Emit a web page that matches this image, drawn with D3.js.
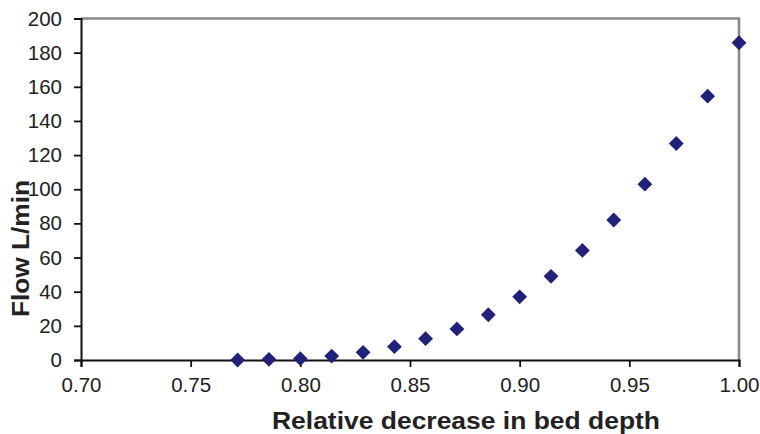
<!DOCTYPE html>
<html>
<head>
<meta charset="utf-8">
<script src="https://cdn.jsdelivr.net/npm/d3@7/dist/d3.min.js"></script>
<style>
  html, body { margin: 0; padding: 0; background: #fff; }
  svg { display: block; font-family: Arial, "Liberation Sans", sans-serif; }
</style>
</head>
<body>
<svg id="chart" width="760" height="434"></svg>
<script>
// Relative decrease in bed depth (x) vs. flow rate (y)
const depthRatio = [0.7714, 0.7857, 0.8000, 0.8143, 0.8286, 0.8429, 0.8571, 0.8714,
                    0.8857, 0.9000, 0.9143, 0.9286, 0.9429, 0.9571, 0.9714, 0.9857, 1.0000];
const flowLmin   = [0.0, 0.4, 0.8, 2.3, 4.5, 7.8, 12.5, 18.2,
                    26.5, 37.0, 49.0, 64.2, 82.0, 103.0, 126.8, 154.5, 185.8];
const xTicks = [0.70, 0.75, 0.80, 0.85, 0.90, 0.95, 1.00];
const yTicks = [0, 20, 40, 60, 80, 100, 120, 140, 160, 180, 200];

const svg = d3.select("#chart");
const plotL = 81, plotR = 739, plotT = 18.5, plotB = 360;

const x = d3.scaleLinear().domain([0.70, 1.00]).range([plotL, plotR]);
const y = d3.scaleLinear().domain([0, 200]).range([plotB, plotT]);

// frame: grey top and right edges
svg.append("path")
  .attr("d", `M${plotL},${plotT}H${plotR}V${plotB}`)
  .attr("fill", "none")
  .attr("stroke", "#898989")
  .attr("stroke-width", 2.6);

const xAxis = svg.append("g")
  .attr("transform", `translate(0,${plotB})`)
  .call(d3.axisBottom(x).tickValues(xTicks).tickFormat(d3.format(".2f")).tickSizeOuter(0).tickSize(7).tickPadding(10));

const yAxis = svg.append("g")
  .attr("transform", `translate(${plotL},0)`)
  .call(d3.axisLeft(y).tickValues(yTicks).tickSizeOuter(0).tickSize(7).tickPadding(12));

[xAxis, yAxis].forEach(g => {
  g.select(".domain").attr("stroke", "#111").attr("stroke-width", 2);
  g.selectAll(".tick line").attr("stroke", "#111").attr("stroke-width", 1.8);
  g.selectAll(".tick text").attr("fill", "#222").style("font-size", "20.5px");
});

// markers: navy diamonds
const diamond = d3.symbol().type(d3.symbolSquare).size(110);
svg.append("g")
  .selectAll("path")
  .data(depthRatio.map((d, i) => [d, flowLmin[i]]))
  .join("path")
  .attr("d", diamond)
  .attr("transform", d => `translate(${x(d[0])},${y(d[1])}) rotate(45)`)
  .attr("fill", "#21217A");

// axis titles
svg.append("text")
  .attr("x", 466).attr("y", 428.5)
  .attr("text-anchor", "middle")
  .attr("font-weight", "bold")
  .attr("fill", "#222")
  .attr("textLength", 388)
  .attr("lengthAdjust", "spacingAndGlyphs")
  .style("font-size", "24px")
  .text("Relative decrease in bed depth");

svg.append("text")
  .attr("transform", "translate(28.5,248.5) rotate(-90)")
  .attr("text-anchor", "middle")
  .attr("font-weight", "bold")
  .attr("fill", "#222")
  .attr("textLength", 137)
  .attr("lengthAdjust", "spacingAndGlyphs")
  .style("font-size", "24.5px")
  .text("Flow L/min");
</script>
</body>
</html>
